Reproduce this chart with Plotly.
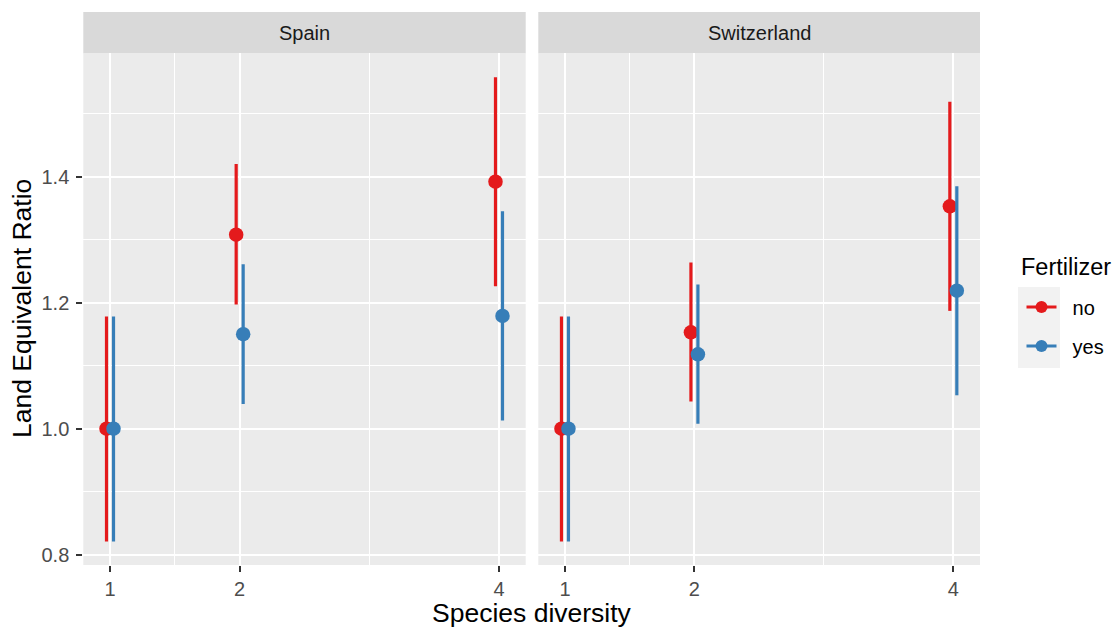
import plotly.graph_objects as go

# ---- data ----
countries = ["Spain", "Switzerland"]
diversity = [1, 2, 4]
fertilizer = ["no", "yes"]
colors = {"no": "#E41A1C", "yes": "#377EB8"}

mean = {
    ("Spain", "no"): [1.000, 1.308, 1.392],
    ("Spain", "yes"): [1.000, 1.150, 1.179],
    ("Switzerland", "no"): [1.000, 1.153, 1.353],
    ("Switzerland", "yes"): [1.000, 1.118, 1.219],
}
lower = {
    ("Spain", "no"): [0.821, 1.197, 1.226],
    ("Spain", "yes"): [0.821, 1.039, 1.013],
    ("Switzerland", "no"): [0.821, 1.043, 1.187],
    ("Switzerland", "yes"): [0.821, 1.008, 1.053],
}
upper = {
    ("Spain", "no"): [1.178, 1.420, 1.558],
    ("Spain", "yes"): [1.178, 1.261, 1.345],
    ("Switzerland", "no"): [1.178, 1.264, 1.519],
    ("Switzerland", "yes"): [1.178, 1.229, 1.385],
}
y_ticks = [0.8, 1.0, 1.2, 1.4]
y_tick_text = ["0.8", "1.0", "1.2", "1.4"]
y_minor = [0.9, 1.1, 1.3, 1.5]
x_minor = [1.5, 3]
dodge = {"no": -0.027, "yes": 0.027}

W, H = 1114, 630
FONT = "Liberation Sans, Arial, sans-serif"


def px(x):
    return x / W


def py(y):
    return 1 - y / H


fig = go.Figure()

axis_refs = {"Spain": ("x", "y"), "Switzerland": ("x2", "y2")}
for c in countries:
    xa, ya = axis_refs[c]
    for f in fertilizer:
        m = mean[(c, f)]
        lo = lower[(c, f)]
        hi = upper[(c, f)]
        fig.add_trace(go.Scatter(
            x=[d + dodge[f] for d in diversity],
            y=m,
            mode="markers",
            marker=dict(color=colors[f], size=14.5, line=dict(width=0)),
            error_y=dict(type="data", symmetric=False,
                         array=[h - v for h, v in zip(hi, m)],
                         arrayminus=[v - l for v, l in zip(m, lo)],
                         width=0, thickness=3.2, color=colors[f]),
            xaxis=xa, yaxis=ya, showlegend=False, hoverinfo="skip",
        ))

# legend entries
for f in fertilizer:
    fig.add_trace(go.Scatter(
        x=[None], y=[None], mode="lines+markers",
        name="\u00a0\u00a0" + f,
        line=dict(color=colors[f], width=3),
        marker=dict(color=colors[f], size=12),
        legendgroup=f, showlegend=True,
    ))

x_dom1 = [px(83.3), px(525.7)]
x_dom2 = [px(538.3), px(980.0)]
y_dom = [py(565.0), py(53.3)]
x_range = [0.794, 4.206]
y_range = [0.7836, 1.5959]

xcommon = dict(
    range=x_range, tickvals=diversity, ticktext=[str(d) for d in diversity],
    showgrid=True, gridcolor="white", gridwidth=1.8, zeroline=False,
    showline=False, ticks="outside", ticklen=6, tickwidth=1.8, tickcolor="#333333",
    tickfont=dict(family=FONT, size=20, color="#4D4D4D"),
    minor=dict(tickvals=x_minor, showgrid=True, gridcolor="white", gridwidth=0.9, ticks=""),
    fixedrange=True,
)
ycommon = dict(
    range=y_range, tickvals=y_ticks, ticktext=y_tick_text, domain=y_dom,
    showgrid=True, gridcolor="white", gridwidth=1.8, zeroline=False,
    showline=False, ticks="outside", ticklen=6, tickwidth=1.8, tickcolor="#333333",
    tickfont=dict(family=FONT, size=20, color="#4D4D4D"),
    minor=dict(tickvals=y_minor, showgrid=True, gridcolor="white", gridwidth=0.9, ticks=""),
    fixedrange=True,
)

layout_x1 = dict(xcommon, domain=x_dom1, anchor="y")
layout_x2 = dict(xcommon, domain=x_dom2, anchor="y2")
layout_y1 = dict(ycommon, anchor="x", ticklabelstandoff=3)
layout_y2 = dict(ycommon, anchor="x2", showticklabels=False, ticks="", matches="y")

shapes = []
annotations = []
strip_top, strip_bot = 12.0, 53.3
for c, dom in zip(countries, [x_dom1, x_dom2]):
    shapes.append(dict(type="rect", xref="paper", yref="paper",
                       x0=dom[0], x1=dom[1], y0=py(strip_bot), y1=py(strip_top),
                       fillcolor="#D9D9D9", line=dict(width=0), layer="below"))
    annotations.append(dict(text=c, xref="paper", yref="paper",
                            x=(dom[0] + dom[1]) / 2, y=py((strip_top + strip_bot) / 2),
                            xanchor="center", yanchor="middle", showarrow=False,
                            font=dict(family=FONT, size=20, color="#1A1A1A")))

# legend key background
shapes.append(dict(type="rect", xref="paper", yref="paper",
                   x0=px(1018), x1=px(1060), y0=py(368), y1=py(287),
                   fillcolor="#F2F2F2", line=dict(width=0), layer="below"))

annotations.append(dict(text="Species diversity", xref="paper", yref="paper",
                        x=px(531.5), y=py(613), xanchor="center", yanchor="middle",
                        showarrow=False, font=dict(family=FONT, size=26.5, color="black")))
annotations.append(dict(text="Land Equivalent Ratio", xref="paper", yref="paper",
                        x=px(22), y=py(309), xanchor="center", yanchor="middle",
                        textangle=-90, showarrow=False,
                        font=dict(family=FONT, size=26.5, color="black")))
annotations.append(dict(text="Fertilizer", xref="paper", yref="paper",
                        x=px(1019), y=py(267), xanchor="left", yanchor="middle",
                        showarrow=False, font=dict(family=FONT, size=23.5, color="black")))

fig.update_layout(
    width=W, height=H,
    margin=dict(l=0, r=0, t=0, b=0),
    paper_bgcolor="white", plot_bgcolor="#EBEBEB",
    xaxis=layout_x1, xaxis2=layout_x2, yaxis=layout_y1, yaxis2=layout_y2,
    shapes=shapes, annotations=annotations,
    showlegend=True,
    legend=dict(
        x=px(1021.5), y=py(287.5), xanchor="left", yanchor="top",
        bgcolor="rgba(0,0,0,0)", borderwidth=0,
        font=dict(family=FONT, size=20, color="black"),
        tracegroupgap=10, itemclick=False, itemdoubleclick=False,
    ),
    font=dict(family=FONT),
)

fig.write_html("out.html", config={"displayModeBar": False},
               post_script="document.body.style.margin='0';document.body.style.overflow='hidden';")
